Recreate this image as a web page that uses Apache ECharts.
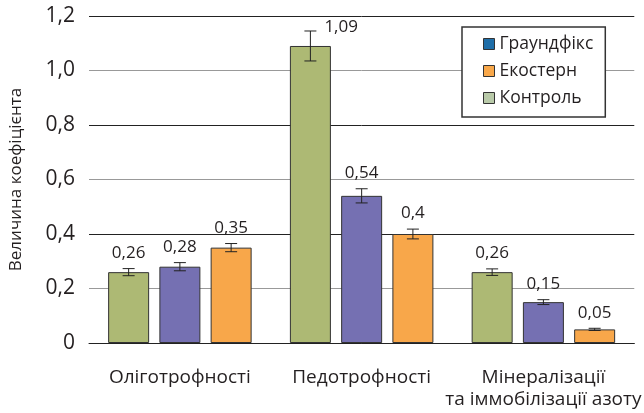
<!DOCTYPE html>
<html>
<head>
<meta charset="utf-8">
<script src="https://cdn.jsdelivr.net/npm/echarts@6/dist/echarts.min.js"></script>
<style>
  html, body { margin: 0; padding: 0; background: #fff; }
  #main { width: 644px; height: 413px; }
</style>
</head>
<body>
<div id="main"></div>
<script>
// категорії та значення коефіцієнтів
var categories = ['Оліготрофності', 'Педотрофності', 'Мінералізації\nта іммобілізації азоту'];
var controlValues = [0.26, 1.09, 0.26];
var groundfixValues = [0.28, 0.54, 0.15];
var ekosternValues = [0.35, 0.4, 0.05];
// похибки (оцінено з рисунка)
var controlErrors = [0.013, 0.055, 0.012];
var groundfixErrors = [0.015, 0.026, 0.009];
var ekosternErrors = [0.015, 0.018, 0.004];

var BAR_W = 41;
var BAR_GAP = 10.25;
var FONT = '"Open Sans", "Noto Sans", sans-serif';
var TEXT = '#231f20';

function fmt(v) {
    return String(v).replace('.', ',');
}

// серія з "вусами" похибки та підписом значення
function errorSeries(name, values, errors, slot) {
    return {
        type: 'custom',
        name: name + '-err',
        silent: true,
        z: 10,
        data: values.map(function (v, i) { return [i, v, errors[i]]; }),
        renderItem: function (params, api) {
            var i = api.value(0), v = api.value(1), e = api.value(2);
            var x = api.coord([i, v])[0] + slot * (BAR_W + BAR_GAP);
            var top = api.coord([i, v + e])[1];
            var bot = api.coord([i, v - e])[1];
            var plotTop = params.coordSys.y;
            var style = { stroke: '#222', lineWidth: 1 };
            var toRight = top - 8 - 17 < plotTop;
            var text = toRight
                ? { type: 'text', style: { x: x + 14, y: top - 4, text: fmt(v), fill: TEXT,
                    font: '17px ' + FONT, align: 'left', verticalAlign: 'middle' } }
                : { type: 'text', style: { x: x, y: top - 7, text: fmt(v), fill: TEXT,
                    font: '17px ' + FONT, align: 'center', verticalAlign: 'bottom' } };
            return {
                type: 'group',
                children: [
                    { type: 'line', shape: { x1: x, y1: top, x2: x, y2: bot }, style: style },
                    { type: 'line', shape: { x1: x - 6, y1: top, x2: x + 6, y2: top }, style: style },
                    { type: 'line', shape: { x1: x - 6, y1: bot, x2: x + 6, y2: bot }, style: style },
                    text
                ]
            };
        }
    };
}

function barSeries(name, values, color) {
    return {
        type: 'bar',
        name: name,
        data: values,
        barWidth: BAR_W,
        barGap: '25%',
        itemStyle: { color: color, borderColor: '#333', borderWidth: 1 }
    };
}

var chart = echarts.init(document.getElementById('main'));

chart.setOption({
    animation: false,
    grid: { left: 89, right: 7, top: 16, bottom: 70 },
    legend: {
        orient: 'vertical',
        left: 462,
        top: 27,
        padding: [8, 12, 10, 21],
        itemWidth: 11,
        itemHeight: 11,
        itemGap: 9,
        backgroundColor: '#fff',
        borderColor: '#333',
        borderWidth: 1.5,
        borderRadius: 0,
        icon: 'rect',
        textStyle: { fontFamily: FONT, fontSize: 17.5, color: TEXT, lineHeight: 18 },
        data: [
            { name: 'Граундфікс', itemStyle: { color: '#1f6ea8', borderColor: '#333', borderWidth: 1 } },
            { name: 'Екостерн', itemStyle: { color: '#f9a84a', borderColor: '#333', borderWidth: 1 } },
            { name: 'Контроль', itemStyle: { color: '#b9caa9', borderColor: '#333', borderWidth: 1 } }
        ]
    },
    xAxis: {
        type: 'category',
        data: categories,
        axisLine: { lineStyle: { color: '#222', width: 1 } },
        axisTick: { show: false },
        axisLabel: { interval: 0, fontFamily: FONT, fontSize: 19, color: TEXT, margin: 24, lineHeight: 22 }
    },
    yAxis: {
        type: 'value',
        min: 0,
        max: 1.2,
        interval: 0.2,
        name: 'Величина коефіцієнта',
        nameLocation: 'middle',
        nameGap: 64,
        nameTextStyle: { fontFamily: FONT, fontSize: 17, color: TEXT },
        axisLine: { show: false },
        axisTick: { show: false },
        axisLabel: {
            fontFamily: FONT, fontSize: 21, color: TEXT, margin: 14,
            formatter: function (v) { return v === 0 ? '0' : v.toFixed(1).replace('.', ','); }
        },
        splitLine: { lineStyle: { color: ['#222', '#999'], width: 1 } }
    },
    series: [
        barSeries('Контроль', controlValues, '#adb974'),
        barSeries('Граундфікс', groundfixValues, '#7570b2'),
        barSeries('Екостерн', ekosternValues, '#f8a74a'),
        errorSeries('Контроль', controlValues, controlErrors, -1),
        errorSeries('Граундфікс', groundfixValues, groundfixErrors, 0),
        errorSeries('Екостерн', ekosternValues, ekosternErrors, 1)
    ]
});
</script>
</body>
</html>
